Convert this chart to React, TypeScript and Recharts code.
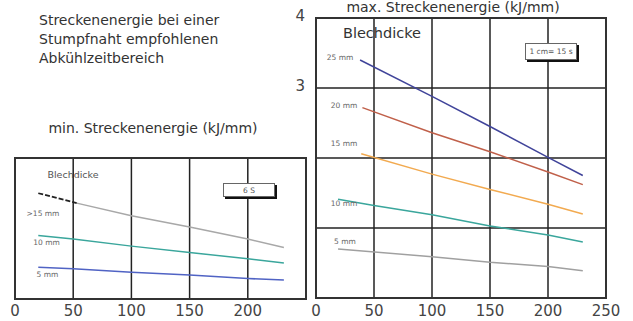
import React from 'react';
import {
    LineChart,
    Line,
    XAxis,
    YAxis,
    CartesianGrid,
    ReferenceArea,
} from 'recharts';

// x = Abkühlzeit-Skala, y = Streckenenergie (kJ/mm)
const ticksMin = [0, 50, 100, 150, 200];
const ticksMax = [0, 50, 100, 150, 200, 250];
const yTicksMin = [0, 1, 2];
const yTicksMax = [0, 1, 2, 3, 4];

// min. Streckenenergie (linkes Diagramm)
const minX15 = [20, 53, 100, 150, 200, 231];
const min15 = [1.5, 1.36, 1.18, 1.02, 0.85, 0.73];
const minX10 = [20, 50, 100, 150, 200, 231];
const min10 = [0.9, 0.85, 0.75, 0.66, 0.57, 0.51];
const minX5 = [20, 50, 100, 150, 200, 231];
const min5 = [0.45, 0.43, 0.38, 0.34, 0.29, 0.27];

// max. Streckenenergie (rechtes Diagramm)
const maxX25 = [38, 100, 150, 200, 230];
const max25 = [3.4, 2.88, 2.45, 2.01, 1.75];
const maxX20 = [40, 100, 150, 200, 230];
const max20 = [2.72, 2.36, 2.09, 1.8, 1.62];
const maxX15 = [39, 100, 150, 200, 230];
const max15 = [2.06, 1.77, 1.55, 1.34, 1.2];
const maxX10 = [19, 50, 100, 150, 200, 230];
const max10 = [1.41, 1.32, 1.19, 1.03, 0.9, 0.8];
const maxX5 = [19, 100, 150, 200, 230];
const max5 = [0.7, 0.59, 0.51, 0.45, 0.39];

const pts = (xs: number[], ys: number[]) => xs.map((x, i) => ({ x, y: ys[i] }));

const tickStyle = { fontSize: 15, fill: '#444', fontFamily: 'DejaVu Sans' };

const Note = ({ x, y, size, children, left, color }: any) => (
    <div
        style={{
            position: 'absolute',
            left: x,
            top: y,
            fontSize: size,
            lineHeight: 1,
            whiteSpace: 'nowrap',
            color: color || '#333',
            transform: left ? 'translate(0, -50%)' : 'translate(-50%, -50%)',
        }}
    >
        {children}
    </div>
);

const Box = ({ x, y, w, h, children }: any) => (
    <div
        style={{
            position: 'absolute',
            left: x,
            top: y,
            width: w,
            height: h,
            boxSizing: 'border-box',
            border: '1px solid #666',
            boxShadow: '2px 2px 0 #111',
            background: '#fff',
            fontSize: 7.5,
            color: '#555',
            display: 'flex',
            alignItems: 'center',
            justifyContent: 'center',
            whiteSpace: 'nowrap',
        }}
    >
        {children}
    </div>
);

export default function App() {
    return (
        <div
            style={{
                position: 'absolute',
                left: 0,
                top: 0,
                width: 633,
                height: 321,
                overflow: 'hidden',
                background: '#fff',
                fontFamily: 'DejaVu Sans',
            }}
        >
            {/* linkes Diagramm */}
            <div style={{ position: 'absolute', left: 0, top: 140 }}>
                <LineChart width={320} height={181} margin={{ top: 18, right: 14, left: 15, bottom: 0 }}>
                    <CartesianGrid stroke="#222" strokeWidth={1.5} />
                    <XAxis
                        dataKey="x"
                        type="number"
                        domain={[0, 250]}
                        ticks={ticksMin}
                        height={22}
                        axisLine={false}
                        tickLine={false}
                        tickSize={4}
                        tickMargin={2}
                        tick={tickStyle}
                        interval={0}
                    />
                    <YAxis
                        type="number"
                        domain={[0, 2]}
                        ticks={yTicksMin}
                        width={0}
                        tick={false}
                        axisLine={false}
                        tickLine={false}
                    />
                    <ReferenceArea x1={0} x2={250} y1={0} y2={2} fill="none" stroke="#333" strokeWidth={2} />
                    <Line data={pts(minX15, min15).slice(1)} dataKey="y" stroke="#a8a8a8" strokeWidth={1.5} dot={false} activeDot={false} isAnimationActive={false} />
                    <Line data={pts(minX15, min15).slice(0, 2)} dataKey="y" stroke="#222" strokeWidth={1.8} strokeDasharray="5 2" dot={false} activeDot={false} isAnimationActive={false} />
                    <Line data={pts(minX10, min10)} dataKey="y" stroke="#3aa69c" strokeWidth={1.5} dot={false} activeDot={false} isAnimationActive={false} />
                    <Line data={pts(minX5, min5)} dataKey="y" stroke="#5063c4" strokeWidth={1.5} dot={false} activeDot={false} isAnimationActive={false} />
                </LineChart>
            </div>

            {/* rechtes Diagramm */}
            <div style={{ position: 'absolute', left: 285, top: 0 }}>
                <LineChart width={348} height={321} margin={{ top: 18, right: 27, left: 0, bottom: 0 }}>
                    <CartesianGrid stroke="#222" strokeWidth={1.5} />
                    <XAxis
                        dataKey="x"
                        type="number"
                        domain={[0, 250]}
                        ticks={ticksMax}
                        height={23}
                        axisLine={false}
                        tickLine={false}
                        tickSize={4}
                        tickMargin={3}
                        tick={tickStyle}
                        interval={0}
                    />
                    <YAxis
                        type="number"
                        domain={[0, 4]}
                        ticks={yTicksMax}
                        width={31}
                        axisLine={false}
                        tickLine={false}
                        tickSize={6}
                        tickMargin={5}
                        tick={{ ...tickStyle, dy: -2 }}
                        interval={0}
                        tickFormatter={(v: number) => (v >= 3 ? String(v) : '')}
                    />
                    <ReferenceArea x1={0} x2={250} y1={0} y2={4} fill="none" stroke="#333" strokeWidth={2} />
                    <Line data={pts(maxX25, max25)} dataKey="y" stroke="#40449a" strokeWidth={1.5} dot={false} activeDot={false} isAnimationActive={false} />
                    <Line data={pts(maxX20, max20)} dataKey="y" stroke="#c0604a" strokeWidth={1.5} dot={false} activeDot={false} isAnimationActive={false} />
                    <Line data={pts(maxX15, max15)} dataKey="y" stroke="#f2aa50" strokeWidth={1.5} dot={false} activeDot={false} isAnimationActive={false} />
                    <Line data={pts(maxX10, max10)} dataKey="y" stroke="#3aa69c" strokeWidth={1.5} dot={false} activeDot={false} isAnimationActive={false} />
                    <Line data={pts(maxX5, max5)} dataKey="y" stroke="#a0a0a0" strokeWidth={1.5} dot={false} activeDot={false} isAnimationActive={false} />
                </LineChart>
            </div>

            {/* Texte */}
            <Note x={39} y={20} size={14} left>Streckenenergie bei einer</Note>
            <Note x={39} y={38.5} size={14} left>Stumpfnaht empfohlenen</Note>
            <Note x={39} y={58} size={14} left>Abkühlzeitbereich</Note>
            <Note x={153} y={128} size={14}>min. Streckenenergie (kJ/mm)</Note>
            <Note x={453} y={7} size={14}>max. Streckenenergie (kJ/mm)</Note>

            <Note x={73} y={175} size={9.5} color="#555">Blechdicke</Note>
            <Note x={43} y={214} size={7.5} color="#666">&gt;15 mm</Note>
            <Note x={46.5} y={243} size={7.5} color="#666">10 mm</Note>
            <Note x={47.5} y={275} size={7.5} color="#666">5 mm</Note>

            <Note x={382} y={33} size={14.5}>Blechdicke</Note>
            <Note x={340} y={58} size={7.5} color="#666">25 mm</Note>
            <Note x={344} y={106} size={7.5} color="#666">20 mm</Note>
            <Note x={344} y={144} size={7.5} color="#666">15 mm</Note>
            <Note x={344} y={204} size={7.5} color="#666">10 mm</Note>
            <Note x={345} y={242} size={7.5} color="#666">5 mm</Note>

            <Box x={223} y={183} w={52} h={14}>6 S</Box>
            <Box x={525} y={43} w={52} h={17}>1 cm= 15 s</Box>
        </div>
    );
}
